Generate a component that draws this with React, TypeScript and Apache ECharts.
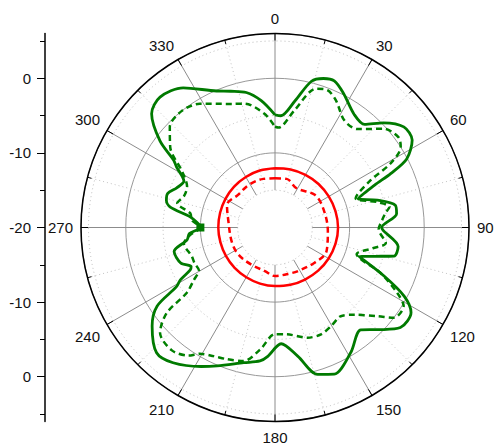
import React, { useEffect, useRef } from "react";
import * as echarts from "echarts";

// ---- data (angle in degrees, value in dB) ----
const angleTicks = [0, 30, 60, 90, 120, 150, 180, 210, 240, 270, 300, 330];
const leftAxisMajor = [-20, -10, 0, 10, 20];
const leftAxisMinor = [-25, -15, -5, 5, 15, 25];

const greenSolidAngles = [0, 3, 9, 14, 18, 22, 27, 35, 41, 46, 52, 57.5, 62.5, 65, 67, 71, 75, 79.5, 83.5, 90, 91.5, 98.8, 103.5, 106, 109, 114, 118, 122, 128.6, 134, 140, 148.8, 158, 163.8, 170, 177, 183.2, 186.4, 193, 202.7, 208, 217, 223.4, 231.3, 236.3, 239, 241, 243.4, 245, 249.4, 256.6, 262, 266, 270, 277, 281, 284, 287.5, 292, 297, 301.6, 303.6, 307, 312.7, 318.6, 326.7, 336.8, 342, 348, 353.8, 360];
const greenSolidDb = [-4.9, -5.0, -2.8, 0.2, 1.0, 1.2, 0.2, -1.5, -1.7, 0.2, 1.9, 1.8, -0.1, -2.9, -5.5, -8.2, -5.8, -3.6, -3.6, -5.7, -5.5, -3.3, -3.6, -6.0, -8.1, -4.0, -0.4, 1.5, 1.5, -0.3, -2.1, -0.4, 1.2, 0.5, -2.5, -4.4, -2.7, -2.0, -1.4, 0.1, 1.1, 2.7, 3.1, 1.1, -1.0, -4.6, -5.5, -7.3, -7.6, -6.5, -6.1, -8.1, -8.5, -10.0, -8.6, -5.7, -5.0, -4.9, -5.8, -6.3, -4.5, -3.7, -0.7, 2.5, 3.3, 2.4, -0.1, -0.8, -1.5, -2.9, -4.9];

const greenDashAngles = [0, 2, 9.4, 16.5, 20.9, 25.6, 32.9, 39.9, 47.8, 53.9, 57.4, 61, 63.7, 70, 76, 79.7, 82.7, 86, 91, 98, 102, 108, 113.3, 118.2, 121.4, 127.2, 130.8, 137.7, 143.4, 150.3, 156.7, 163.5, 173.8, 180, 187, 193.3, 200.3, 205.5, 210.8, 214, 220, 227.5, 231.7, 233.5, 237, 240.6, 246, 251, 260, 265, 270, 275, 279.5, 284, 289, 295, 301, 307.5, 313.7, 321.4, 328.7, 341.2, 346.2, 354.7, 360];
const greenDashDb = [-6.5, -6.6, -4.1, -0.6, -0.3, -1.1, -2.9, -2.8, -0.3, 0.5, 0.0, -2.3, -5.7, -8.5, -5.9, -4.4, -5.1, -5.6, -6.1, -5.0, -6.6, -8.5, -4.6, -1.4, 0.2, 0.0, -1.8, -4.2, -5.2, -4.8, -4.4, -4.6, -5.6, -5.7, -3.5, -1.6, -1.2, -0.9, -0.3, 0.7, 1.5, 0.9, -1.5, -5.3, -7.0, -8.3, -8.2, -8.2, -7.6, -8.6, -10.0, -8.8, -8.5, -6.5, -7.1, -7.0, -5.5, -2.3, -0.5, 0.0, -0.6, -2.5, -2.9, -4.7, -6.5];

const redSolidAngles = [0, 15, 30, 45, 60, 75, 90, 105, 120, 135, 150, 165, 180, 195, 210, 225, 240, 255, 270, 285, 300, 315, 330, 345, 360];
const redSolidDb = [-12.05, -11.95, -11.85, -11.75, -11.68, -11.6, -11.55, -11.6, -11.7, -11.82, -11.95, -12.05, -12.15, -12.22, -12.3, -12.35, -12.4, -12.42, -12.4, -12.38, -12.33, -12.25, -12.18, -12.1, -12.05];

const redDashAngles = [0, 13.5, 28.8, 50.6, 68, 94, 114.7, 131.6, 152, 160, 180, 193, 212, 233.5, 252, 277.6, 295, 311.8, 328, 346.5, 360];
const redDashDb = [-13.4, -13.3, -14.0, -13.1, -13.05, -12.9, -12.4, -12.9, -13.4, -13.5, -13.5, -14.0, -14.1, -13.9, -13.9, -13.7, -12.9, -13.4, -13.3, -13.3, -13.4];

const markerAngle = 270;

const FONT = "'Liberation Sans', Arial, sans-serif";
const TXT = "#111111";
const CX = 275;
const CY = 227.5;
const R = 194;
const R_MIN = -20;
const R_MAX = 6;

function pairs(angles: number[], vals: number[]) {
  return angles.map((a, i) => [vals[i], a]);
}

export default function App() {
  const ref = useRef<HTMLDivElement>(null);
  useEffect(() => {
    if (!ref.current) return;
    const chart = echarts.init(ref.current, null, { renderer: "svg" });
    const innerR = (R * 5) / (R_MAX - R_MIN);

    const greenSolidData: any[] = pairs(greenSolidAngles, greenSolidDb).map((p) =>
      p[1] === markerAngle
        ? { value: p, symbol: "rect", symbolSize: 8, itemStyle: { color: "#007a00" } }
        : { value: p, symbol: "none" }
    );

    const option: any = {
      animation: false,
      backgroundColor: "#ffffff",
      textStyle: { fontFamily: FONT },
      polar: [
        { center: [CX, CY], radius: R },
        { center: [CX, CY], radius: [innerR, R] },
      ],
      radiusAxis: [
        {
          polarIndex: 0,
          type: "value",
          min: R_MIN,
          max: R_MAX,
          interval: 10,
          axisLine: { show: false },
          axisTick: { show: false },
          axisLabel: { show: false },
          splitLine: { show: true, lineStyle: { color: "#999999", width: 1, type: "solid" } },
          z: 1,
        },
        {
          polarIndex: 1,
          type: "value",
          min: 0,
          max: 21,
          interval: 10,
          axisLine: { show: false },
          axisTick: { show: false },
          axisLabel: { show: false },
          splitLine: { show: true, lineStyle: { color: "#bdbdbd", width: 1, type: [1, 3] } },
          z: 1,
        },
      ],
      angleAxis: [
        {
          polarIndex: 0,
          type: "value",
          min: 0,
          max: 360,
          interval: 30,
          startAngle: 90,
          clockwise: true,
          axisLine: { show: true, lineStyle: { color: "#000000", width: 1.5 } },
          axisTick: { show: true, inside: true, length: 7, lineStyle: { color: "#000000", width: 1 } },
          minorTick: { show: true, splitNumber: 2, length: 4, lineStyle: { color: "#000000", width: 1 } },
          axisLabel: {
            show: true,
            margin: 8,
            fontSize: 15,
            color: TXT,
            fontFamily: FONT,
            customValues: angleTicks,
          },
          splitLine: { show: false },
          z: 3,
        },
        {
          polarIndex: 1,
          type: "value",
          min: 0,
          max: 360,
          interval: 30,
          startAngle: 90,
          clockwise: true,
          axisLine: { show: false },
          axisTick: { show: false },
          axisLabel: { show: false },
          minorTick: { show: false, splitNumber: 2 },
          splitLine: { show: true, lineStyle: { color: "#8c8c8c", width: 1 } },
          minorSplitLine: { show: true, lineStyle: { color: "#c4c4c4", width: 1, type: [1, 3] } },
          z: 1,
        },
      ],
      grid: { left: 45, top: CY - R, width: 1, height: 2 * R },
      xAxis: { type: "value", show: false, min: 0, max: 1 },
      yAxis: [
        {
          type: "value",
          position: "left",
          min: -26,
          max: 26,
          axisLine: { show: true, lineStyle: { color: "#000000", width: 1.5 } },
          axisTick: { show: true, length: 8, customValues: leftAxisMajor, lineStyle: { color: "#000000", width: 1 } },
          axisLabel: {
            show: true,
            customValues: leftAxisMajor,
            margin: 14,
            fontSize: 15,
            color: TXT,
            fontFamily: FONT,
            formatter: (v: number) => String(Math.abs(v) - 20),
          },
          splitLine: { show: false },
        },
        {
          type: "value",
          position: "left",
          min: -26,
          max: 26,
          axisLine: { show: false },
          axisTick: { show: true, length: 5, customValues: leftAxisMinor, lineStyle: { color: "#000000", width: 1 } },
          axisLabel: { show: false },
          splitLine: { show: false },
        },
      ],
      series: [
        {
          type: "line",
          coordinateSystem: "polar",
          polarIndex: 0,
          data: pairs(redDashAngles, redDashDb),
          showSymbol: false,
          smooth: 0.35,
          lineStyle: { color: "#ff0000", width: 2.5, type: [6, 4] },
          z: 4,
        },
        {
          type: "line",
          coordinateSystem: "polar",
          polarIndex: 0,
          data: pairs(redSolidAngles, redSolidDb),
          showSymbol: false,
          smooth: 0.4,
          lineStyle: { color: "#ff0000", width: 2.5 },
          z: 4,
        },
        {
          type: "line",
          coordinateSystem: "polar",
          polarIndex: 0,
          data: pairs(greenDashAngles, greenDashDb),
          showSymbol: false,
          smooth: 0.3,
          lineStyle: { color: "#008000", width: 2.5, type: [6, 4] },
          z: 4,
        },
        {
          type: "line",
          coordinateSystem: "polar",
          polarIndex: 0,
          data: greenSolidData,
          showSymbol: true,
          symbol: "none",
          smooth: 0.3,
          lineStyle: { color: "#007a00", width: 2.8 },
          z: 5,
        },
      ],
    };
    chart.setOption(option);
    return () => chart.dispose();
  }, []);
  return (
    <div
      ref={ref}
      style={{ position: "absolute", left: 0, top: 0, width: 495, height: 447, background: "#fff" }}
    />
  );
}
